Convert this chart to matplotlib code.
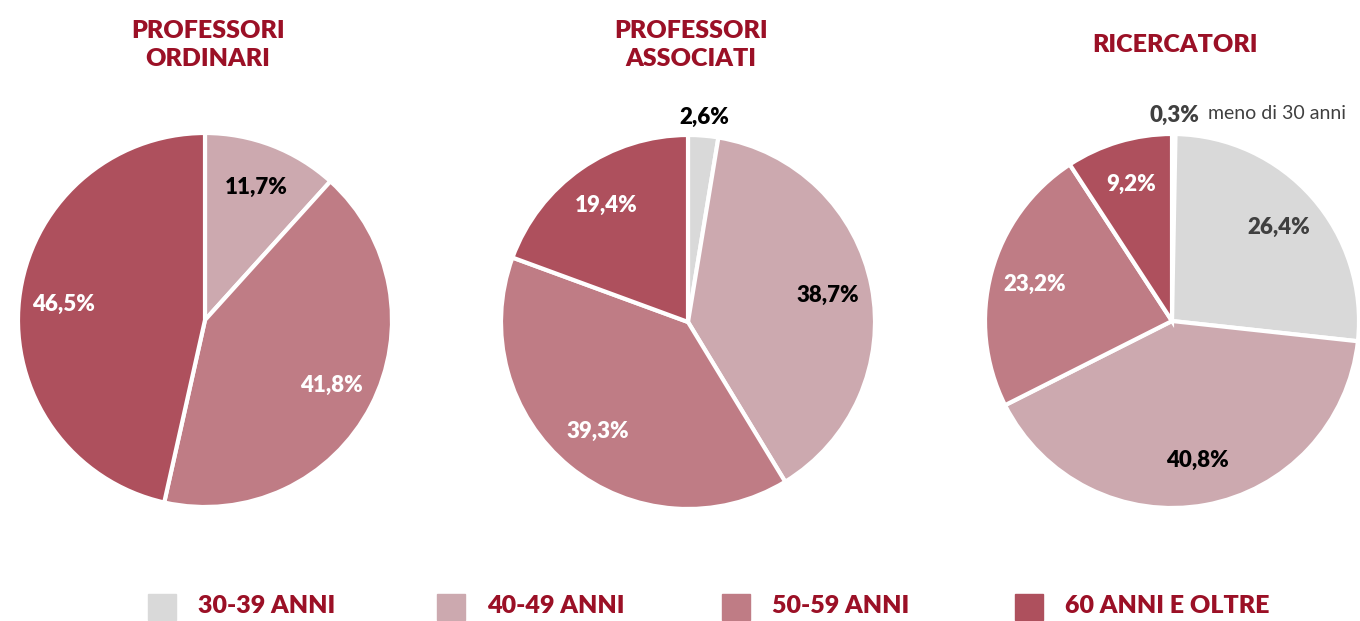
import numpy as np
import matplotlib.pyplot as plt

plt.rcParams['font.family'] = ['Lato', 'DejaVu Sans']

# Data
titles = ['PROFESSORI\nORDINARI', 'PROFESSORI\nASSOCIATI', 'RICERCATORI']
categories = ['30-39 ANNI', '40-49 ANNI', '50-59 ANNI', '60 ANNI E OLTRE']
ordinari = [0.0, 11.7, 41.8, 46.5]
associati = [2.6, 38.7, 39.3, 19.4]
ricercatori_under30 = 0.3
ricercatori = [26.4, 40.8, 23.2, 9.2]

colors = ['#D9D9D9', '#CCA9AF', '#BF7C85', '#AE505D']
label_colors = ['#404040', '#000000', '#FFFFFF', '#FFFFFF']
dark_red = '#9B1026'


def fmt(v):
    return f'{v:.1f}%'.replace('.', ',')


fig = plt.figure(figsize=(13.6, 6.21), dpi=100)
W, H = 1360, 621
R = 187
centers = [(205, 320), (688, 322), (1172, 321)]

datasets = [ordinari, associati, [ricercatori_under30] + ricercatori]
for i, (title, vals, (cx, cy)) in enumerate(zip(titles, datasets, centers)):
    ax = fig.add_axes([(cx - R) / W, (H - cy - R) / H, 2 * R / W, 2 * R / H])
    if i == 2:
        cols = ['#EDEDED'] + colors
        lcols = ['#404040'] + label_colors
    else:
        cols = colors
        lcols = label_colors
    wedges, _ = ax.pie(vals, colors=cols, startangle=90, counterclock=False,
                       radius=1, wedgeprops=dict(edgecolor='white', linewidth=3))
    for j, (w, v) in enumerate(zip(wedges, vals)):
        if v <= 0:
            continue
        ang = np.deg2rad((w.theta1 + w.theta2) / 2)
        rr = 1.10 if v < 5 else 0.76
        x, y = rr * np.cos(ang), rr * np.sin(ang)
        c = lcols[j]
        if i == 1 and j == 0:
            c = '#000000'
        ax.text(x, y, fmt(v), ha='center', va='center', color=c,
                fontsize=16, fontweight='heavy')
        if i == 2 and j == 0:
            ax.text(x + 0.18, y + 0.01, 'meno di 30 anni', ha='left', va='center',
                    color='#404040', fontsize=14)
    ax.set_xlim(-1, 1)
    ax.set_ylim(-1, 1)
    ax.set_aspect('auto')
    ax.axis('off')
    fig.text(cx / W + 0.002, 1 - 45 / H, title, ha='center', va='center',
             color=dark_red, fontsize=18, fontweight='heavy', linespacing=1.3)

# legend
leg_x = [148, 437, 722, 1015]
for cat, col, lx in zip(categories, colors, leg_x):
    fig.patches.append(plt.Rectangle((lx / W, 1 - 620 / H), 28 / W, 26 / H,
                                     transform=fig.transFigure, color=col))
    fig.text((lx + 50) / W, 1 - 606 / H, cat, ha='left', va='center',
             color=dark_red, fontsize=18, fontweight='heavy')

fig.savefig('out.png', dpi=100)
